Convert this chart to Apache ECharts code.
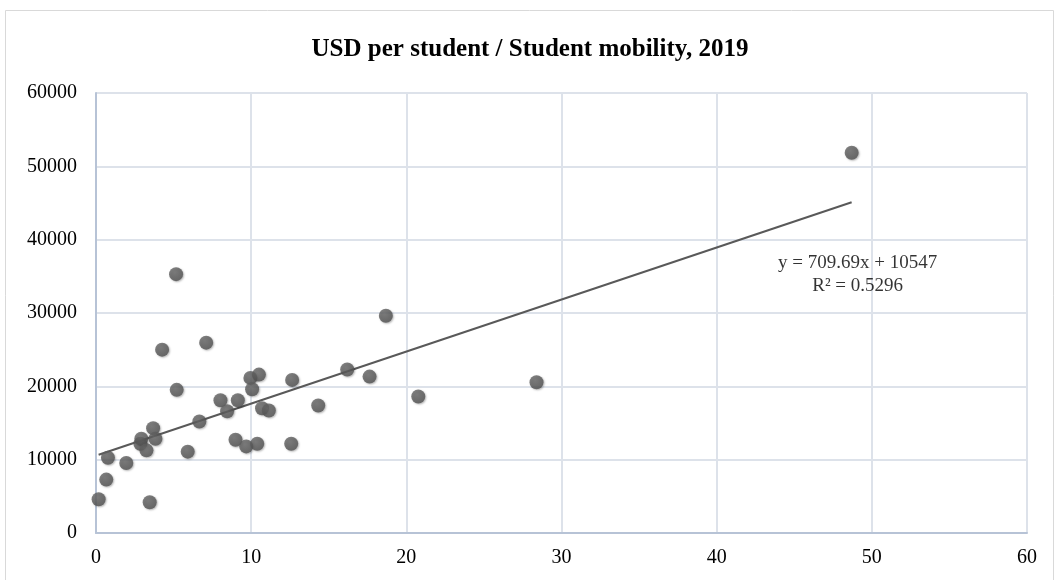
<!DOCTYPE html>
<html>
<head>
<meta charset="utf-8">
<script src="https://cdn.jsdelivr.net/npm/echarts@6/dist/echarts.min.js"></script>
<style>
html,body{margin:0;padding:0;background:#fff;}
#chart{width:1060px;height:580px;}
</style>
</head>
<body>
<div id="chart"></div>
<script>
const titleText = 'USD per student / Student mobility, 2019';
const mobility = [0.17, 0.66, 0.77, 1.95, 2.86, 2.92, 3.25, 3.46, 3.68, 3.83, 4.26, 5.16, 5.2, 5.91, 6.66, 7.1, 8.02, 8.45, 8.99, 9.14, 9.68, 9.95, 10.06, 10.39, 10.5, 10.7, 11.14, 12.58, 12.64, 14.32, 16.19, 17.63, 18.68, 20.77, 28.39, 48.7];
const usdPerStudent = [4600, 7280, 10270, 9540, 12180, 12860, 11270, 4190, 14300, 12860, 25000, 35300, 19520, 11090, 15210, 25960, 18110, 16610, 12720, 18110, 11810, 21150, 19610, 12180, 21600, 17020, 16710, 12180, 20880, 17390, 22290, 21330, 29630, 18610, 20560, 51850];
const trendSlope = 709.69;
const trendIntercept = 10547;
const rSquared = 0.5296;
const xTicks = [0, 10, 20, 30, 40, 50, 60];
const yTicks = [0, 10000, 20000, 30000, 40000, 50000, 60000];

const points = mobility.map((x, i) => [x, usdPerStudent[i]]);
const xMinData = Math.min(...mobility);
const xMaxData = Math.max(...mobility);
const trend = [xMinData, xMaxData].map(x => [x, trendIntercept + trendSlope * x]);
const eqX = 40, eqY = 35200;

const chart = echarts.init(document.getElementById('chart'), null, {renderer: 'canvas'});
const font = "'Liberation Serif', 'Times New Roman', serif";
chart.setOption({
  animation: false,
  backgroundColor: '#fff',
  textStyle: {fontFamily: font},
  title: {
    text: titleText,
    left: 'center',
    top: 32,
    textStyle: {fontFamily: font, fontSize: 25, fontWeight: 'bold', color: '#000'}
  },
  graphic: [{
    type: 'rect',
    shape: {x: 5.5, y: 10.5, width: 1048, height: 580},
    style: {fill: null, stroke: '#d9d9d9', lineWidth: 1},
    silent: true
  }],
  grid: {left: 96, right: 33, top: 93, bottom: 47, containLabel: false},
  xAxis: {
    type: 'value',
    min: xTicks[0], max: xTicks[xTicks.length - 1], interval: xTicks[1] - xTicks[0],
    axisLine: {show: true, lineStyle: {color: '#b7c3d6', width: 2}},
    axisTick: {show: false},
    splitLine: {show: true, lineStyle: {color: '#dde2ea', width: 2}},
    axisLabel: {color: '#000', fontSize: 20, fontFamily: font, margin: 15}
  },
  yAxis: {
    type: 'value',
    min: yTicks[0], max: yTicks[yTicks.length - 1], interval: yTicks[1] - yTicks[0],
    axisLine: {show: true, lineStyle: {color: '#b7c3d6', width: 2}},
    axisTick: {show: false},
    splitLine: {show: true, lineStyle: {color: '#dde2ea', width: 2}},
    axisLabel: {color: '#000', fontSize: 20, fontFamily: font, margin: 19, formatter: v => String(v)}
  },
  series: [
    {
      type: 'line',
      data: trend,
      symbol: 'none',
      lineStyle: {color: '#595959', width: 2},
      z: 3,
      silent: true
    },
    {
      type: 'scatter',
      data: points,
      symbolSize: 14,
      itemStyle: {
        color: new echarts.graphic.RadialGradient(0.4, 0.35, 0.7, [
          {offset: 0, color: '#6a6a6a'},
          {offset: 1, color: '#4f4f4f'}
        ]),
        shadowBlur: 2, shadowColor: 'rgba(0,0,0,0.35)', shadowOffsetX: 1, shadowOffsetY: 1
      },
      z: 4
    },
    {
      type: 'scatter',
      data: [[eqX, eqY]],
      symbolSize: 0,
      silent: true,
      label: {
        show: true,
        position: 'inside',
        formatter: 'y = ' + trendSlope + 'x + ' + trendIntercept + '\nR² = ' + rSquared,
        fontFamily: font, fontSize: 19, color: '#000', lineHeight: 23, align: 'center',
        offset: [141, 0]
      },
      z: 5
    }
  ]
});
</script>
</body>
</html>
